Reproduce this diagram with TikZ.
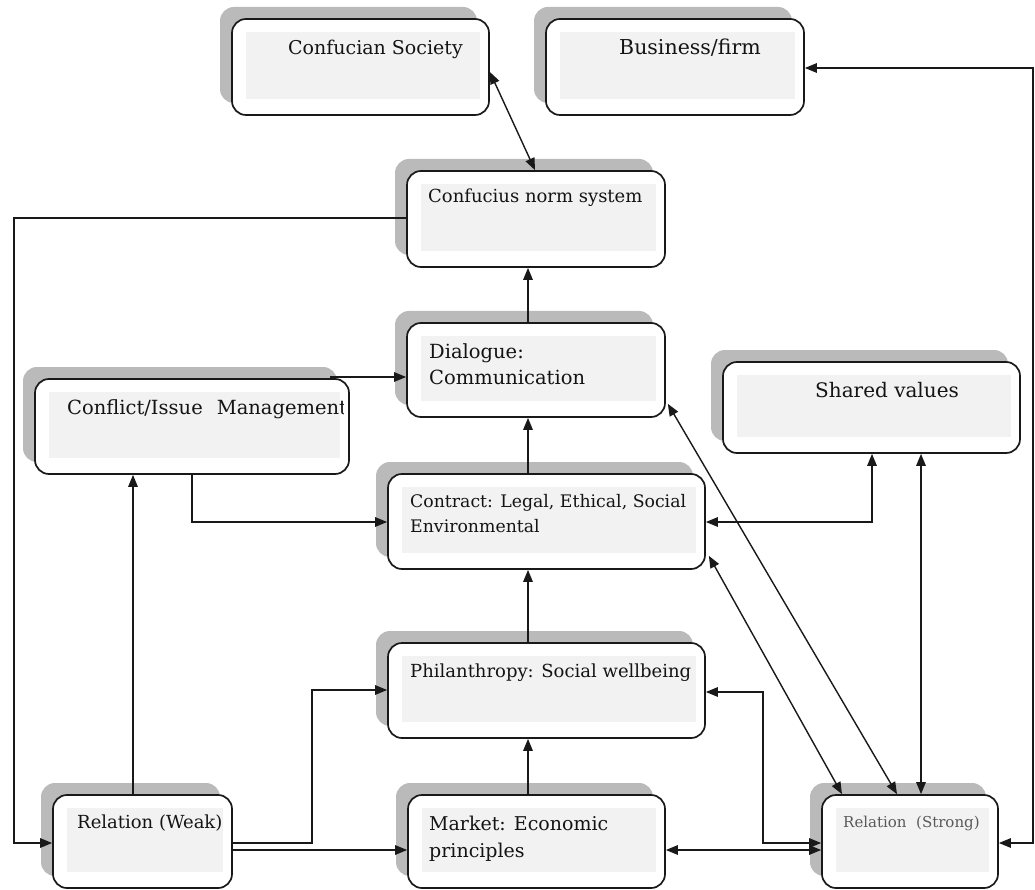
\documentclass[tikz,border=0pt]{standalone}
\usepackage{fontspec}
\setmainfont{DejaVu Serif}
\usetikzlibrary{arrows.meta,shadows,calc}
\begin{document}
\begin{tikzpicture}[x=1pt,y=-1pt,
  box/.style={draw=black!90, line width=1.7pt, rounded corners=14pt, fill=white, inner sep=0pt,
     general shadow={fill=black!27, shadow xshift=-12pt, shadow yshift=12pt},
     path picture={\fill[black!5, sharp corners] ([xshift=14pt,yshift=-13pt]path picture bounding box.north west) rectangle ([xshift=-9pt,yshift=16pt]path picture bounding box.south east);}},
  lbl/.style={anchor=base west, inner sep=0pt, font=\fontsize{19}{23}\selectfont, text=black!92},
  fs/.style={font=\fontsize{#1}{#1}\selectfont},
  slbl/.style={anchor=base west, inner sep=0pt, font=\fontsize{15}{18}\selectfont, text=black!65},
  tip/.tip={Triangle[length=12pt,width=9.5pt]},
  conn/.style={line width=1.4pt, draw=black!90},
  sarr/.style={conn, -tip},
  darr/.style={conn, tip-tip}
]
\useasboundingbox (0,0) rectangle (1035,890);
\fill[white] (0,0) rectangle (1035,890);

% boxes
\node[box, minimum width=257pt, minimum height=96pt] (cs) at (360.5,67) {};
\node[box, minimum width=258pt, minimum height=96pt] (bf) at (675,67) {};
\node[box, minimum width=258pt, minimum height=96pt] (ns) at (536,219) {};
\node[box, minimum width=258pt, minimum height=94pt] (dl) at (536,370) {};
\node[box, minimum width=314pt, minimum height=95pt] (cm) at (192,426.5) {};
\node[box, minimum width=297pt, minimum height=91pt] (sv) at (871.5,407.5) {};
\node[box, minimum width=317pt, minimum height=95pt] (ct) at (546.5,521.5) {};
\node[box, minimum width=317pt, minimum height=95pt] (ph) at (546.5,690.5) {};
\node[box, minimum width=179pt, minimum height=93pt] (rw) at (142.5,841.5) {};
\node[box, minimum width=257pt, minimum height=93pt] (mk) at (536.5,841.5) {};
\node[box, minimum width=176pt, minimum height=93pt] (rs) at (910,841.5) {};

% texts
\node[lbl] (tcs) at (288,55) {Confucian Society};
\node[lbl, fs=20.5] (tbf) at (619,55) {Business/firm};
\node[lbl, fs=18] (tns) at (428,203) {Confucius norm system};
\node[lbl, fs=19.5] (tdl1) at (429,358) {Dialogue:};
\node[lbl, fs=19.5] (tdl2) at (429,384) {Communication};
\begin{scope}
\clip (40,380) rectangle (343,470);
\node[lbl, fs=19.5] (tcm) at (67,414) {Conflict/Issue\hspace{14pt}Management};
\end{scope}
\node[lbl, fs=20] (tsv) at (815,397) {Shared values};
\node[lbl, fs=17.3] (tct1) at (410,507) {Contract: Legal, Ethical, Social};
\node[lbl, fs=17.3] (tct2) at (410,532) {Environmental};
\node[lbl, fs=18] (tph) at (410,677) {Philanthropy: Social wellbeing};
\node[lbl, fs=18] (trw) at (77,828) {Relation (Weak)};
\node[lbl] (tmk1) at (429,830) {Market: Economic};
\node[lbl] (tmk2) at (429,857) {principles};
\node[slbl] (trs) at (843,827) {Relation\ \ (Strong)};

% helper coordinates
\coordinate (xv) at (528,0);
\coordinate (xl) at (14,0);
\coordinate (xc) at (133,0);
\coordinate (xd) at (192,0);
\coordinate (xp) at (312,0);
\coordinate (xm) at (763,0);
\coordinate (xs) at (872,0);
\coordinate (xq) at (921,0);
\coordinate (xr) at (1033,0);
\coordinate (y68) at (0,68);
\coordinate (y218) at (0,218);
\coordinate (y522) at (0,522);
\coordinate (y690) at (0,690);
\coordinate (y692) at (0,692);
\coordinate (y843) at (0,843);
\coordinate (y850) at (0,850);
\coordinate (cmtop) at (330,377);

% connectors
\draw[sarr] (dl.north -| xv) -- (ns.south -| xv);
\draw[sarr] (ct.north -| xv) -- (dl.south -| xv);
\draw[sarr] (ph.north -| xv) -- (ct.south -| xv);
\draw[sarr] (mk.north -| xv) -- (ph.south -| xv);
\draw[darr] ([yshift=-5pt]cs.east) -- ([xshift=-1pt]ns.north);
\draw[sarr] (ns.west |- y218) -| (xl |- y843) -- (rw.west |- y843);
\draw[sarr] (cmtop) -- (dl.west |- cmtop);
\draw[sarr] (cm.south -| xd) |- (ct.west |- y522);
\draw[sarr] (rw.north -| xc) -- (cm.south -| xc);
\draw[sarr] (rw.east |- y843) -| (xp |- y690) -- (ph.west |- y690);
\draw[sarr] (rw.east |- y850) -- (mk.west |- y850);
\draw[darr] (mk.east |- y850) -- (rs.west |- y850);
\draw[darr] (ph.east |- y692) -| (xm |- y843) -- (rs.west |- y843);
\draw[darr] (ct.east |- y522) -| (sv.south -| xs);
\draw[darr] (sv.south -| xq) -- (rs.north -| xq);
\draw[darr] ([xshift=2pt,yshift=14pt]dl.south east) -- ([xshift=-13pt]rs.north);
\draw[darr] ([xshift=3pt,yshift=14pt]ct.south east) -- ([xshift=-68pt]rs.north);
\draw[darr] (rs.east |- y843) -| (xr |- y68) -- (bf.east |- y68);
\end{tikzpicture}
\end{document}
